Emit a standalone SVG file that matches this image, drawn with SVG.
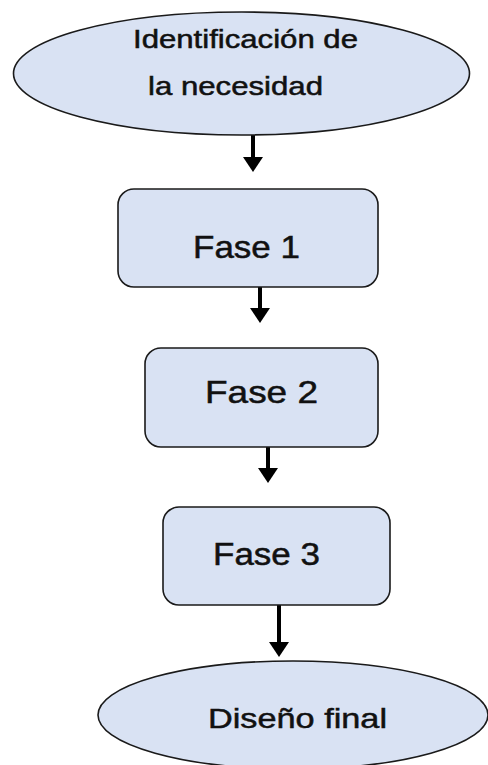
<svg xmlns="http://www.w3.org/2000/svg" width="488" height="765" viewBox="0 0 488 765">
  <style>
    .shape { fill: #d9e2f3; stroke: #1a1a1a; stroke-width: 1.6; }
    .lbl { font-family: "Liberation Sans", Arial, sans-serif; fill: #111; stroke: #111; stroke-width: 0.5; text-anchor: middle; }
    .conn { stroke: #000; stroke-width: 4; fill: none; }
  </style>
  <defs>
    <marker id="arrow" viewBox="0 0 15 20" markerWidth="15" markerHeight="20" markerUnits="userSpaceOnUse" refX="7" refY="10" orient="auto">
      <path d="M0,0 L15,10 L0,20 z" fill="#000"/>
    </marker>
  </defs>
  <rect width="488" height="765" fill="#ffffff"/>

  <g id="connectors">
    <line class="conn" x1="253" y1="135" x2="253" y2="164" marker-end="url(#arrow)"/>
    <line class="conn" x1="260" y1="287" x2="260" y2="315" marker-end="url(#arrow)"/>
    <line class="conn" x1="268" y1="447" x2="268" y2="475" marker-end="url(#arrow)"/>
    <line class="conn" x1="279" y1="605" x2="279" y2="649" marker-end="url(#arrow)"/>
  </g>

  <g id="node-identificacion">
    <ellipse class="shape" cx="241.5" cy="73.5" rx="228" ry="61.5"/>
    <text class="lbl" x="245.5" y="48" font-size="25" textLength="225" lengthAdjust="spacingAndGlyphs">Identificación de</text>
    <text class="lbl" x="235.5" y="95" font-size="25" textLength="175" lengthAdjust="spacingAndGlyphs">la necesidad</text>
  </g>

  <g id="node-fase1">
    <rect class="shape" x="118" y="189" width="260" height="98" rx="16"/>
    <text class="lbl" x="246.5" y="258" font-size="32" textLength="107" lengthAdjust="spacingAndGlyphs">Fase 1</text>
  </g>

  <g id="node-fase2">
    <rect class="shape" x="145" y="348" width="233" height="99" rx="16"/>
    <text class="lbl" x="261.5" y="403" font-size="32" textLength="113" lengthAdjust="spacingAndGlyphs">Fase 2</text>
  </g>

  <g id="node-fase3">
    <rect class="shape" x="163" y="507" width="227" height="98" rx="16"/>
    <text class="lbl" x="266.5" y="565" font-size="31" textLength="107" lengthAdjust="spacingAndGlyphs">Fase 3</text>
  </g>

  <g id="node-diseno">
    <ellipse class="shape" cx="293" cy="715" rx="195" ry="54"/>
    <text class="lbl" x="297.5" y="728" font-size="28" textLength="179" lengthAdjust="spacingAndGlyphs">Diseño final</text>
  </g>
</svg>
